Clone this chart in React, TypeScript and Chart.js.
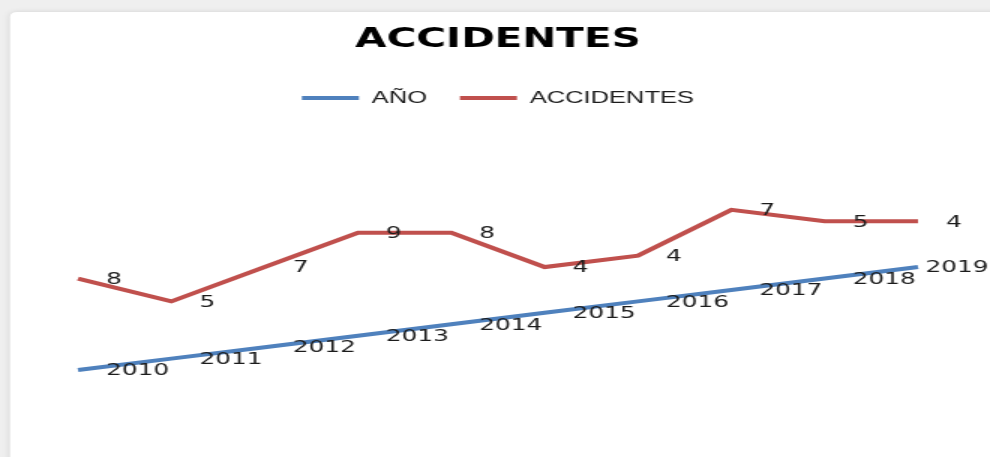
import React, { useEffect, useRef } from "react";
import { Chart, registerables } from "chart.js";

Chart.register(...registerables);

const categories = ["2010", "2011", "2012", "2013", "2014", "2015", "2016", "2017", "2018", "2019"];
const anoValues = [2010, 2011, 2012, 2013, 2014, 2015, 2016, 2017, 2018, 2019];
const accidentesValues = [8, 5, 7, 9, 8, 4, 4, 7, 5, 4];
const seriesNames = ["AÑO", "ACCIDENTES"];
const chartTitle = "ACCIDENTES";

const BLUE = "#4F81BD";
const RED = "#C0504D";

// The reference picture is stretched horizontally; the chart is drawn at
// 660px wide and widened by 1.5 with a CSS transform.
const STRETCH = 1.5;
const CANVAS_W = 660;
const CANVAS_H = 457;

const backgroundPlugin = {
  id: "cardBackground",
  beforeDraw(chart: any) {
    const { ctx, width, height } = chart;
    ctx.save();
    ctx.fillStyle = "#efefef";
    ctx.fillRect(0, 0, width, height);
    ctx.fillStyle = "#ffffff";
    ctx.shadowColor = "rgba(0,0,0,0.12)";
    ctx.shadowBlur = 5;
    ctx.beginPath();
    const x0 = 6.7, y0 = 12, r = 5;
    ctx.moveTo(x0 + r, y0);
    ctx.lineTo(width + 20, y0);
    ctx.lineTo(width + 20, height + 20);
    ctx.lineTo(x0, height + 20);
    ctx.lineTo(x0, y0 + r);
    ctx.quadraticCurveTo(x0, y0, x0 + r, y0);
    ctx.closePath();
    ctx.fill();
    ctx.restore();
  },
};

const labelPlugin = {
  id: "pointLabels",
  afterDatasetsDraw(chart: any) {
    const { ctx, width } = chart;
    ctx.save();
    ctx.font = "16.5px 'DejaVu Sans'";
    ctx.fillStyle = "#1c1c1c";
    ctx.textBaseline = "middle";
    ctx.textAlign = "left";
    chart.data.datasets.forEach((ds: any, di: number) => {
      const meta = chart.getDatasetMeta(di);
      meta.data.forEach((pt: any, i: number) => {
        const text = String(ds.data[i]);
        const w = ctx.measureText(text).width;
        let x = pt.x + 18.7;
        if (x + w > width - 1) x = width - 1 - w;
        ctx.fillText(text, x, pt.y + 1);
      });
    });
    ctx.restore();
  },
};

export default function App() {
  const canvasRef = useRef<HTMLCanvasElement | null>(null);

  useEffect(() => {
    document.body.style.margin = "0";
    document.body.style.overflow = "hidden";
    const canvas = canvasRef.current;
    if (!canvas) return;
    const chart = new Chart(canvas, {
      type: "line",
      data: {
        labels: categories,
        datasets: [
          {
            label: seriesNames[0],
            data: anoValues,
            borderColor: BLUE,
            backgroundColor: BLUE,
            borderWidth: 4,
            pointRadius: 0,
            pointHoverRadius: 0,
            pointStyle: "line",
            tension: 0,
            fill: false,
          },
          {
            label: seriesNames[1],
            data: accidentesValues,
            borderColor: RED,
            backgroundColor: RED,
            borderWidth: 4,
            pointRadius: 0,
            pointHoverRadius: 0,
            pointStyle: "line",
            tension: 0,
            fill: false,
          },
        ],
      },
      options: {
        animation: false,
        responsive: false,
        maintainAspectRatio: false,
        devicePixelRatio: 1,
        layout: { padding: { left: 52, right: 48, top: 0, bottom: 18.3 } },
        scales: {
          x: { display: false },
          y: { display: false, stacked: true, min: 2004, max: 2032.16 },
        },
        plugins: {
          tooltip: { enabled: false },
          title: {
            display: true,
            text: chartTitle,
            color: "#000000",
            font: { family: "'DejaVu Sans'", size: 27, weight: "bold", lineHeight: 0.5 },
            padding: { top: 33.25, bottom: 20.75 },
          },
          legend: {
            display: true,
            labels: {
              usePointStyle: true,
              pointStyleWidth: 38,
              color: "#1c1c1c",
              font: { family: "'Liberation Sans'", size: 17, lineHeight: 1 },
              padding: 22,
            },
          },
        },
      },
      plugins: [backgroundPlugin, labelPlugin],
    });
    return () => chart.destroy();
  }, []);

  return (
    <div style={{ width: CANVAS_W * STRETCH, height: CANVAS_H, overflow: "hidden" }}>
      <div
        style={{
          width: CANVAS_W,
          height: CANVAS_H,
          transform: `scaleX(${STRETCH})`,
          transformOrigin: "0 0",
        }}
      >
        <canvas
          ref={canvasRef}
          width={CANVAS_W}
          height={CANVAS_H}
          style={{ display: "block", width: CANVAS_W, height: CANVAS_H }}
        />
      </div>
    </div>
  );
}
